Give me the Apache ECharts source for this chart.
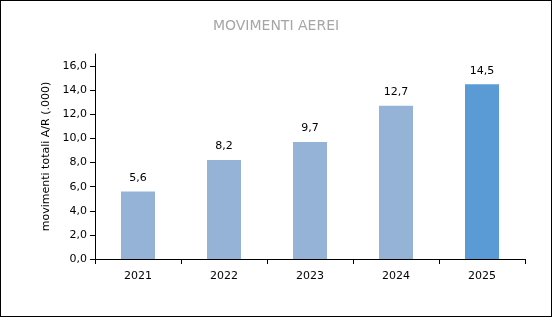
<!DOCTYPE html>
<html>
<head>
<meta charset="utf-8">
<script src="https://cdn.jsdelivr.net/npm/echarts@6/dist/echarts.min.js"></script>
<style>
  html, body { margin: 0; padding: 0; background: #fff; }
  #chart-container { width: 550px; height: 315px; border: 1px solid #000; }
</style>
</head>
<body>
<div id="chart-container"></div>
<script>
// Data
const years = ['2021', '2022', '2023', '2024', '2025'];
const movements = [5.6, 8.2, 9.7, 12.7, 14.5];
const yTicks = [0, 2, 4, 6, 8, 10, 12, 14, 16];

const fmt = (v) => Number(v).toFixed(1).replace('.', ',');

const myChart = echarts.init(document.getElementById('chart-container'));
myChart.setOption({
  animation: false,
  title: {
    text: 'MOVIMENTI AEREI',
    left: 'center',
    top: 13,
    textStyle: { color: '#A6A6A6', fontSize: 14, fontWeight: 'normal', fontFamily: 'DejaVu Sans' }
  },
  grid: { left: 94, right: 26, top: 53, bottom: 57 },
  xAxis: {
    type: 'category',
    data: years,
    axisLine: { lineStyle: { color: '#000', width: 1 } },
    axisTick: { show: true, alignWithLabel: false, length: 5, lineStyle: { color: '#000' } },
    axisLabel: { color: '#000', fontSize: 11, margin: 12, fontFamily: 'DejaVu Sans' }
  },
  yAxis: {
    type: 'value',
    min: 0,
    max: 17,
    name: 'movimenti totali A/R (.000)',
    nameLocation: 'center',
    nameGap: 42,
    nameTextStyle: { color: '#000', fontSize: 11, fontFamily: 'DejaVu Sans' },
    splitLine: { show: false },
    axisLine: { show: true, lineStyle: { color: '#000', width: 1 } },
    axisTick: { show: true, length: 5, customValues: yTicks, lineStyle: { color: '#000' } },
    axisLabel: {
      color: '#000', fontSize: 11, margin: 8, fontFamily: 'DejaVu Sans',
      customValues: yTicks,
      formatter: fmt
    }
  },
  series: [{
    type: 'bar',
    barWidth: 34,
    data: movements.map((v, i) => ({
      value: v,
      itemStyle: { color: i === movements.length - 1 ? '#5B9BD5' : '#95B3D7' }
    })),
    label: {
      show: true,
      position: 'top',
      distance: 8,
      color: '#000',
      fontSize: 11,
      fontFamily: 'DejaVu Sans',
      formatter: (p) => fmt(p.value)
    }
  }]
});
</script>
</body>
</html>
